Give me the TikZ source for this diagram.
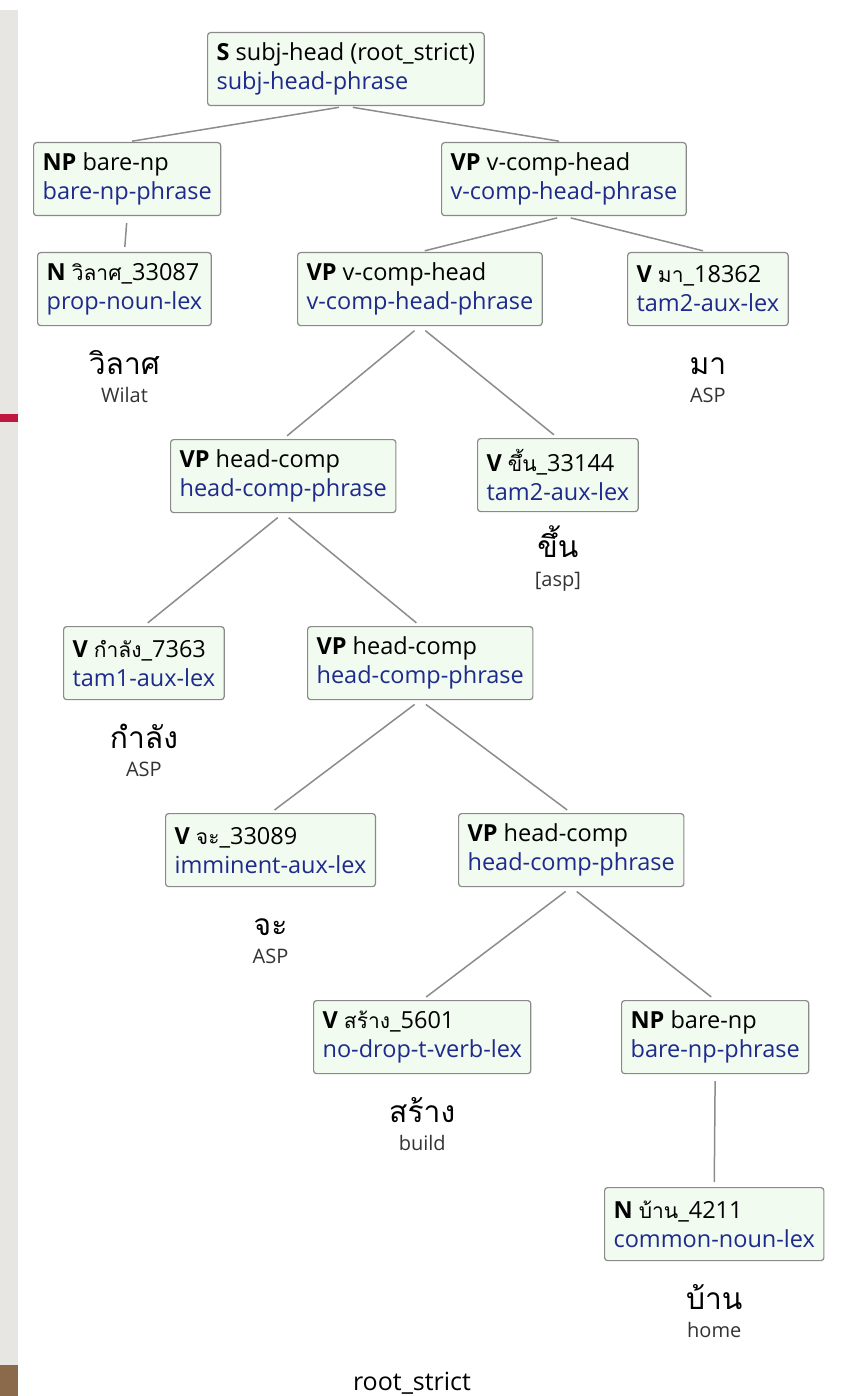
\documentclass[tikz,border=0pt]{standalone}
\usepackage{fontspec}
\setmainfont{Open Sans}
\newfontfamily\thai[Script=Thai]{Loma}

\definecolor{boxfill}{HTML}{F2FBF0}
\definecolor{boxline}{HTML}{8A8A8A}
\definecolor{typecol}{HTML}{1E2A8C}
\definecolor{edgecol}{HTML}{8C8C8C}
\definecolor{glosscol}{HTML}{333333}
\definecolor{strip}{HTML}{E8E6E2}
\definecolor{accent}{HTML}{C0173F}
\definecolor{wood}{HTML}{8A6A4A}

\newcommand{\cat}[1]{\textbf{#1}}
\newcommand{\typ}[1]{\textcolor{typecol}{#1}}
\newcommand{\thw}[1]{{\thai\fontsize{21}{29}\selectfont #1}}

\tikzset{
  treenode/.style={draw=boxline, fill=boxfill, rounded corners=3pt, line width=1.2pt,
    align=left, anchor=north west, inner xsep=9pt, minimum height=73pt,
    font=\fontsize{23.5}{29}\selectfont},
  edge/.style={draw=edgecol, line width=1.5pt, shorten >=5pt, shorten <=7pt},
  word/.style={font=\thai\fontsize{30}{30}\selectfont, text=black, anchor=base},
  gloss/.style={font=\fontsize{20}{20}\selectfont, text=glosscol, anchor=base},
}

\begin{document}
\begin{tikzpicture}[x=1pt,y=-1pt]
\useasboundingbox (0,0) rectangle (844,1396);
\fill[white] (0,0) rectangle (844,1396);

% side margin of the slide
\fill[strip] (0,10) rectangle (18,1396);
\fill[accent] (0,414) rectangle (18,422);
\fill[wood] (0,1365) rectangle (18,1396);

% tree nodes
\node[treenode] (s)   at (207,32)  {\cat{S} subj-head (root\_strict)\\\typ{subj-head-phrase}};
\node[treenode] (np1) at (33,142)  {\cat{NP} bare-np\\\typ{bare-np-phrase}};
\node[treenode] (vp1) at (441,142) {\cat{VP} v-comp-head\\\typ{v-comp-head-phrase}};
\node[treenode] (n1)  at (37,252)  {\cat{N} \thw{วิลาศ}\_33087\\\typ{prop-noun-lex}};
\node[treenode] (vp2) at (297,252) {\cat{VP} v-comp-head\\\typ{v-comp-head-phrase}};
\node[treenode] (vma) at (627,252) {\cat{V} \thw{มา}\_18362\\\typ{tam2-aux-lex}};
\node[treenode] (vp3) at (170,439) {\cat{VP} head-comp\\\typ{head-comp-phrase}};
\node[treenode] (vkh) at (477,438) {\cat{V} \thw{ขึ้น}\_33144\\\typ{tam2-aux-lex}};
\node[treenode] (vkl) at (63,626)  {\cat{V} \thw{กำลัง}\_7363\\\typ{tam1-aux-lex}};
\node[treenode] (vp4) at (307,626) {\cat{VP} head-comp\\\typ{head-comp-phrase}};
\node[treenode] (vja) at (165,813) {\cat{V} \thw{จะ}\_33089\\\typ{imminent-aux-lex}};
\node[treenode] (vp5) at (458,813) {\cat{VP} head-comp\\\typ{head-comp-phrase}};
\node[treenode] (vsa) at (313,1000) {\cat{V} \thw{สร้าง}\_5601\\\typ{no-drop-t-verb-lex}};
\node[treenode] (np2) at (621,1000) {\cat{NP} bare-np\\\typ{bare-np-phrase}};
\node[treenode] (n2)  at (604,1187) {\cat{N} \thw{บ้าน}\_4211\\\typ{common-noun-lex}};

% branches
\draw[edge] (s.south) -- (np1.north);
\draw[edge] (s.south) -- (vp1.north);
\draw[edge] (np1.south) -- (n1.north);
\draw[edge] (vp1.south) -- (vp2.north);
\draw[edge] (vp1.south) -- (vma.north);
\draw[edge] (vp2.south) -- (vp3.north);
\draw[edge] (vp2.south) -- (vkh.north);
\draw[edge] (vp3.south) -- (vkl.north);
\draw[edge] (vp3.south) -- (vp4.north);
\draw[edge] (vp4.south) -- (vja.north);
\draw[edge] (vp4.south) -- (vp5.north);
\draw[edge] (vp5.south) -- (vsa.north);
\draw[edge] (vp5.south) -- (np2.north);
\draw[edge] (np2.south) -- (n2.north);

% surface words and glosses
\node[word]  (w1) at ([yshift=-48pt]n1.south)  {วิลาศ};
\node[gloss] (g1) at ([yshift=-76pt]n1.south)  {Wilat};
\node[word]  (w2) at ([yshift=-48pt]vma.south) {มา};
\node[gloss] (g2) at ([yshift=-76pt]vma.south) {ASP};
\node[word]  (w3) at ([yshift=-45pt]vkh.south) {ขึ้น};
\node[gloss] (g3) at ([yshift=-74pt]vkh.south) {[asp]};
\node[word]  (w4) at ([yshift=-48pt]vkl.south) {กำลัง};
\node[gloss] (g4) at ([yshift=-76pt]vkl.south) {ASP};
\node[word]  (w5) at ([yshift=-48pt]vja.south) {จะ};
\node[gloss] (g5) at ([yshift=-76pt]vja.south) {ASP};
\node[word]  (w6) at ([yshift=-48pt]vsa.south) {สร้าง};
\node[gloss] (g6) at ([yshift=-76pt]vsa.south) {build};
\node[word]  (w7) at ([yshift=-48pt]n2.south)  {บ้าน};
\node[gloss] (g7) at ([yshift=-76pt]n2.south)  {home};

\node[font=\fontsize{25}{25}\selectfont] (root) at (412,1383) {root\_strict};
\end{tikzpicture}
\end{document}
